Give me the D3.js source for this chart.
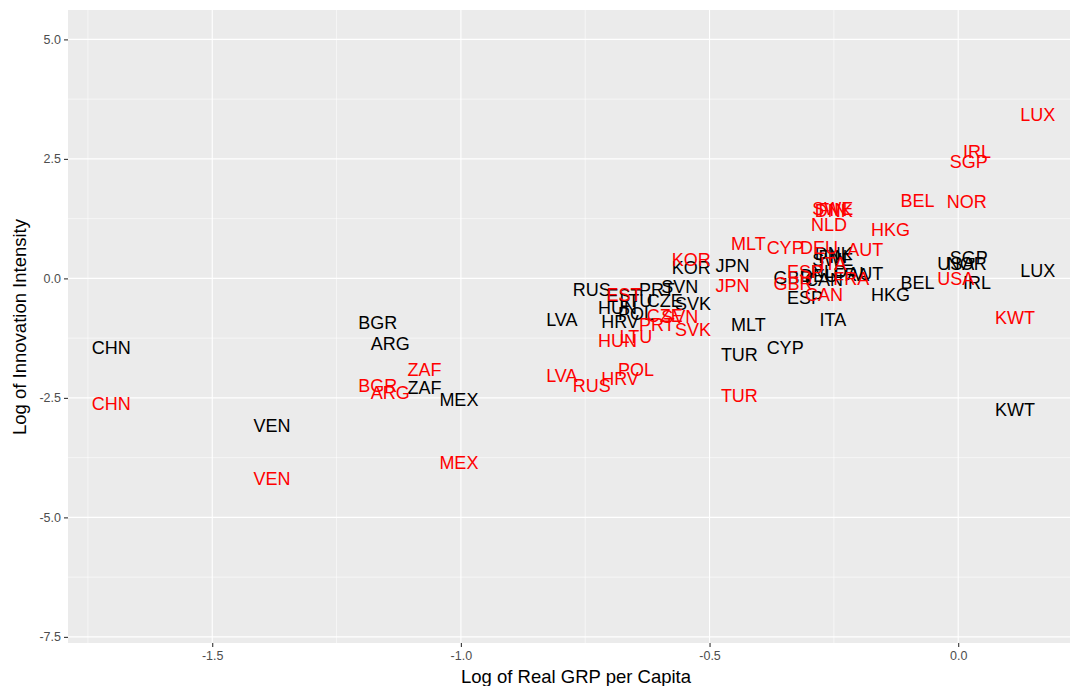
<!DOCTYPE html>
<html>
<head>
<meta charset="utf-8">
<script src="https://cdn.jsdelivr.net/npm/d3@7"></script>
<style>
  body { margin: 0; background: #fff; }
  text { font-family: "Liberation Sans", Arial, sans-serif; }
</style>
</head>
<body>
<svg id="chart"></svg>
<script>
var width = 1070;
var height = 686;

// country codes, one x per country, two y series
var countries = ['CHN','VEN','BGR','ARG','ZAF','MEX','LVA','RUS','EST','HUN','POL','HRV','LTU','CZE','PRT','SVN','SVK','KOR','JPN','MLT','TUR','CYP','GBR','ESP','DNK','FIN','SWE','NLD','FRA','DEU','CAN','USA','AUT','ITA','HKG','BEL','SGP','NOR','IRL','LUX','KWT'];
var logGrp = [-1.703,-1.380,-1.167,-1.142,-1.073,-1.004,-0.797,-0.737,-0.672,-0.685,-0.648,-0.680,-0.648,-0.590,-0.606,-0.560,-0.533,-0.537,-0.454,-0.422,-0.440,-0.348,-0.332,-0.308,-0.250,-0.252,-0.252,-0.260,-0.215,-0.280,-0.270,-0.005,-0.187,-0.252,-0.136,-0.082,0.021,0.017,0.038,0.160,0.114];
var intensityBlack = [-1.456,-3.088,-0.933,-1.372,-2.293,-2.544,-0.870,-0.243,-0.368,-0.619,-0.745,-0.912,-0.473,-0.473,-0.243,-0.180,-0.536,0.218,0.259,-0.975,-1.600,-1.456,0.008,-0.410,0.510,0.447,0.385,0.134,0.070,0.050,-0.033,0.310,0.092,-0.870,-0.347,-0.096,0.427,0.301,-0.096,0.155,-2.753];
var intensityRed = [-2.628,-4.197,-2.251,-2.397,-1.916,-3.863,-2.042,-2.251,-0.347,-1.310,-1.916,-2.105,-1.226,-0.787,-0.975,-0.808,-1.080,0.385,-0.159,0.720,-2.458,0.636,-0.117,0.134,1.410,1.431,1.452,1.117,-0.012,0.636,-0.347,-0.012,0.594,0.301,1.013,1.619,2.435,1.598,2.644,3.418,-0.828];

var xTicks = [-1.5, -1.0, -0.5, 0.0];
var xMinor = [-1.75, -1.25, -0.75, -0.25];
var yTicks = [5.0, 2.5, 0.0, -2.5, -5.0, -7.5];
var yMinor = [3.75, 1.25, -1.25, -3.75, -6.25];

var panel = { left: 68, right: 1070, top: 10, bottom: 643 };

var svg = d3.select('#chart')
  .attr('width', width)
  .attr('height', height);

var x = d3.scaleLinear()
  .domain([-1.790, 0.2248])
  .range([panel.left, panel.right]);

var y = d3.scaleLinear()
  .domain([5.615, -7.628])
  .range([panel.top, panel.bottom]);

svg.append('rect')
  .attr('x', panel.left)
  .attr('y', panel.top)
  .attr('width', panel.right - panel.left)
  .attr('height', panel.bottom - panel.top)
  .attr('fill', '#EBEBEB');

var grid = svg.append('g');

grid.selectAll('.xminor').data(xMinor).enter().append('line')
  .attr('x1', d => x(d)).attr('x2', d => x(d))
  .attr('y1', panel.top).attr('y2', panel.bottom)
  .attr('stroke', '#fff').attr('stroke-width', 0.55);
grid.selectAll('.yminor').data(yMinor).enter().append('line')
  .attr('y1', d => y(d)).attr('y2', d => y(d))
  .attr('x1', panel.left).attr('x2', panel.right)
  .attr('stroke', '#fff').attr('stroke-width', 0.55);
grid.selectAll('.xmajor').data(xTicks).enter().append('line')
  .attr('x1', d => x(d)).attr('x2', d => x(d))
  .attr('y1', panel.top).attr('y2', panel.bottom)
  .attr('stroke', '#fff').attr('stroke-width', 1.1);
grid.selectAll('.ymajor').data(yTicks).enter().append('line')
  .attr('y1', d => y(d)).attr('y2', d => y(d))
  .attr('x1', panel.left).attr('x2', panel.right)
  .attr('stroke', '#fff').attr('stroke-width', 1.1);

// axes
var fmt = function(d) { return d3.format('.1f')(d).replace('\u2212', '-'); };
var xAxis = svg.append('g')
  .attr('transform', 'translate(0,' + panel.bottom + ')')
  .call(d3.axisBottom(x).tickValues(xTicks).tickFormat(fmt).tickSize(4).tickPadding(4));
var yAxis = svg.append('g')
  .attr('transform', 'translate(' + panel.left + ',0)')
  .call(d3.axisLeft(y).tickValues(yTicks).tickFormat(fmt).tickSize(4).tickPadding(3));

[xAxis, yAxis].forEach(function(a) {
  a.select('.domain').remove();
  a.selectAll('.tick line').attr('stroke', '#333333').attr('stroke-width', 1.1);
  a.selectAll('.tick text')
    .attr('fill', '#4D4D4D')
    .style('font-size', '12.5px')
    .style('font-family', '"Liberation Sans", Arial, sans-serif');
});

// labels
var data = countries.map(function(c, i) {
  return { code: c, gx: logGrp[i], black: intensityBlack[i], red: intensityRed[i] };
});

var labels = svg.append('g').style('font-size', '18px');

labels.selectAll('.lab-black').data(data).enter().append('text')
  .attr('x', d => x(d.gx))
  .attr('y', d => y(d.black))
  .attr('text-anchor', 'middle')
  .attr('dominant-baseline', 'central')
  .attr('fill', '#000')
  .text(d => d.code);

labels.selectAll('.lab-red').data(data).enter().append('text')
  .attr('x', d => x(d.gx))
  .attr('y', d => y(d.red))
  .attr('text-anchor', 'middle')
  .attr('dominant-baseline', 'central')
  .attr('fill', '#FF0000')
  .text(d => d.code);

// axis titles
svg.append('text')
  .attr('x', (panel.left + panel.right) / 2 + 7)
  .attr('y', 683)
  .attr('text-anchor', 'middle')
  .style('font-size', '18.5px')
  .text('Log of Real GRP per Capita');

svg.append('text')
  .attr('transform', 'translate(26,' + (327) + ') rotate(-90)')
  .attr('text-anchor', 'middle')
  .style('font-size', '18.5px')
  .text('Log of Innovation Intensity');
</script>
</body>
</html>
